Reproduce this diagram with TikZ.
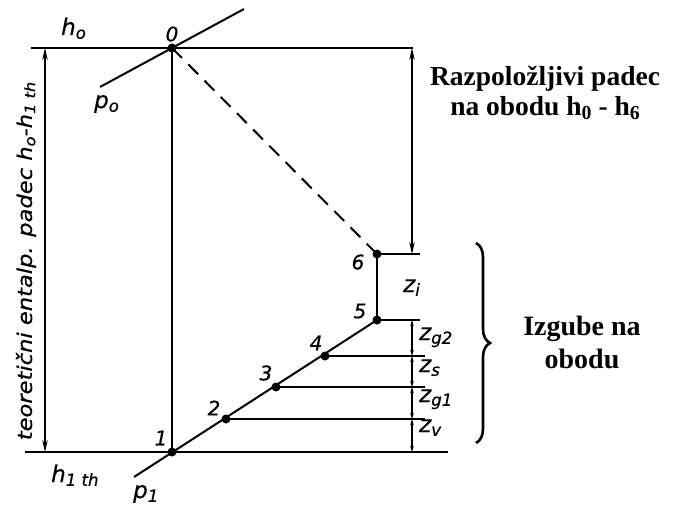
\documentclass[tikz,border=0pt]{standalone}
\usepackage{fontspec}
\setmainfont{Liberation Serif}
\newfontfamily\lbl[ItalicFeatures={FakeBold=0.6}]{DejaVu Sans}
\usetikzlibrary{arrows.meta,decorations.pathreplacing}
\newcommand{\sub}[1]{\raisebox{-0.3ex}{\fontsize{0.72em}{0.72em}\selectfont #1}}
\begin{document}
\begin{tikzpicture}[x=1pt,y=-1pt,
  ln/.style={line width=2pt},
  thin/.style={line width=1.1pt},
  dot/.style={circle,fill,inner sep=0pt,minimum size=9pt},
  lab/.style={font=\lbl\itshape\fontsize{20}{20}\selectfont,inner sep=0pt},
  labh/.style={font=\lbl\itshape\fontsize{23}{23}\selectfont,inner sep=0pt,anchor=base west},
  labz/.style={font=\lbl\itshape\fontsize{23}{23}\selectfont,inner sep=0pt,anchor=base west},
  big/.style={font=\bfseries\fontsize{27.5}{30}\selectfont,align=center},
  dtip/.style={{Stealth[length=6pt,width=3.5pt]}-{Stealth[length=6pt,width=3.5pt]}},
  btip/.style={{Stealth[length=12pt,width=5.5pt]}-{Stealth[length=12pt,width=5.5pt]}},
]
\useasboundingbox (0,0) rectangle (680,511);
% points
\node[dot] (p0) at (172,48) {};
\node[dot] (p1) at (172,452) {};
\node[dot] (p2) at (226,419) {};
\node[dot] (p3) at (276,387) {};
\node[dot] (p4) at (325,356) {};
\node[dot] (p5) at (377,320) {};
\node[dot] (p6) at (377,254) {};
\coordinate (hL) at (31,48);
\coordinate (hR) at (413,48);
\coordinate (bL) at (25,452);
\coordinate (bR) at (448,452);
\coordinate (iA) at (100,87);
\coordinate (iB) at (244,9);
\coordinate (iC) at (134,477);
% main lines
\draw[ln] (hL) -- (hR);
\draw[ln] (bL) -- (bR);
\draw[ln] (iA) -- (iB);
\draw[ln] (iC) -- (p5.center);
\draw[ln] (p0.center) -- (p1.center);
\draw[ln] (p5.center) -- (p6.center);
\draw[ln,dash pattern=on 14pt off 9pt] (p0.center) -- (p6.center);
% horizontal extension lines
\coordinate (e6) at (420,254);
\coordinate (e5) at (420,320);
\coordinate (e4) at (425,356);
\coordinate (e3) at (425,387);
\coordinate (e2) at (425,419);
\draw[thin] (p6.center) -- (e6);
\draw[thin] (p5.center) -- (e5);
\draw[thin] (p4.center) -- (e4);
\draw[thin] (p3.center) -- (e3);
\draw[thin] (p2.center) -- (e2);
% left dimension
\coordinate (lT) at (45,48);
\coordinate (lB) at (45,452);
\draw[thin,btip] (lT) -- (lB);
% right dimension
\coordinate (rT) at (412,48);
\coordinate (rB) at (412,254);
\draw[thin,btip] (rT) -- (rB);
% small chain
\coordinate (c5) at (412,320);
\coordinate (c4) at (412,356);
\coordinate (c3) at (412,387);
\coordinate (c2) at (412,419);
\coordinate (c1) at (412,452);
\draw[thin,dtip] (c5) -- (c4);
\draw[thin,dtip] (c4) -- (c3);
\draw[thin,dtip] (c3) -- (c2);
\draw[thin,dtip] (c2) -- (c1);
% labels
\node[labh] (lh0) at (61,35) {h\sub{o}};
\node[labh] (lp0) at (94,108) {p\sub{o}};
\node[labh] (lh1) at (51,482) {h\sub{1 th}};
\node[labh] (lp1) at (133,498) {p\sub{1}};
\node[lab] (l0) at (172,34) {0};
\node[lab] (l1) at (161,438) {1};
\node[lab] (l2) at (214,408) {2};
\node[lab] (l3) at (266,373) {3};
\node[lab] (l4) at (316,343) {4};
\node[lab] (l5) at (360,311) {5};
\node[lab] (l6) at (358,262) {6};
\node[labz] (zi) at (403,292) {z\sub{i}};
\node[labz] (zg2) at (419,340) {z\sub{g2}};
\node[labz] (zs) at (419,372) {z\sub{s}};
\node[labz] (zg1) at (419,402) {z\sub{g1}};
\node[labz] (zv) at (419,432) {z\sub{v}};
\node[lab,font=\lbl\itshape\fontsize{20}{20}\selectfont,rotate=90] (teo) at (26,261) {\scalebox{1.13}[1]{teoretični entalp. padec h\sub{o}-h\sub{1 th}}};
% right texts
\node[big] (t1) at (545,93) {Razpoložljivi padec\\na obodu h\sub{0} - h\sub{6}};
\coordinate (bT) at (476,243);
\coordinate (bBo) at (476,443);
\draw[line width=2.6pt,decorate,decoration={brace,amplitude=14pt}] (bT) -- (bBo);
\node[big,font=\bfseries\fontsize{28}{33}\selectfont] (t2) at (582,342) {Izgube na\\obodu};
\end{tikzpicture}
\end{document}
